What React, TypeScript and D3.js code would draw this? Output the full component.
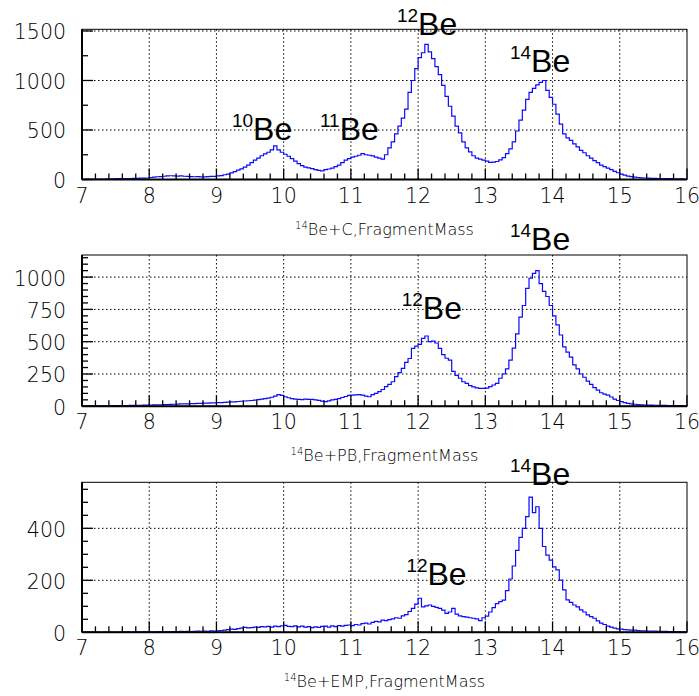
import * as d3 from "d3";
import React from "react";

// fragment mass histograms, bins of 0.05 from 7 to 16 (20 bins per unit)
const massMin = 7;
const massMax = 16;
const binWidth = 0.05;

const cCounts = [
  2, 3, 3, 4, 4, 5, 5, 6, 6, 7, 8, 8, 9, 10, 10, 11, 12, 13, 14, 15,
  20, 24, 28, 30, 33, 36, 38, 37, 35, 36, 33, 31, 30, 28, 30, 27, 26, 29, 31, 32,
  36, 40, 48, 55, 66, 80, 95, 108, 125, 145, 170, 195, 215, 240, 258, 275, 300, 340, 300, 275,
  255, 235, 210, 185, 160, 140, 125, 118, 110, 100, 92, 88, 100, 106, 115, 130, 145, 170, 195, 210,
  225, 235, 245, 262, 250, 245, 238, 225, 215, 205, 250, 320, 380, 460, 540, 620, 710, 880, 1000, 1120,
  1230, 1280, 1365, 1290, 1220, 1140, 1060, 950, 840, 740, 640, 540, 470, 380, 320, 280, 240, 215, 205, 195,
  185, 172, 175, 182, 198, 220, 262, 310, 380, 490, 600, 700, 810, 880, 920, 955, 980, 1000, 900, 830,
  760, 660, 560, 460, 420, 395, 360, 330, 295, 270, 240, 215, 190, 170, 145, 130, 115, 100, 82, 68,
  55, 45, 35, 30, 25, 20, 17, 15, 13, 12, 11, 10, 10, 9, 8, 8, 7, 6, 6, 5,
];

const pbCounts = [
  2, 2, 3, 3, 3, 4, 4, 4, 5, 5, 5, 6, 6, 6, 7, 7, 8, 8, 9, 9,
  10, 11, 12, 12, 13, 14, 15, 16, 17, 18, 18, 19, 20, 21, 22, 23, 24, 25, 26, 27,
  28, 29, 31, 32, 34, 35, 37, 39, 41, 43, 45, 48, 52, 56, 60, 64, 70, 78, 90, 84,
  74, 66, 60, 56, 54, 52, 55, 53, 54, 50, 46, 40, 36, 42, 50, 54, 60, 68, 76, 84,
  86, 88, 90, 86, 78, 74, 90, 100, 113, 130, 152, 170, 190, 230, 260, 294, 340, 370, 449, 465,
  480, 526, 544, 500, 505, 490, 449, 400, 372, 358, 270, 240, 217, 190, 178, 160, 150, 142, 139, 138,
  140, 152, 165, 178, 217, 250, 290, 358, 450, 560, 690, 780, 913, 991, 1029, 1050, 950, 890, 850, 780,
  700, 630, 552, 460, 420, 380, 320, 290, 250, 225, 195, 170, 145, 125, 105, 95, 87, 72, 56, 45,
  36, 28, 23, 19, 16, 13, 11, 10, 10, 9, 8, 8, 7, 7, 6, 6, 5, 5, 5, 4,
];

const empCounts = [
  0, 1, 0, 1, 1, 0, 1, 1, 1, 0, 1, 1, 1, 2, 1, 1, 2, 1, 2, 2,
  2, 1, 2, 3, 2, 3, 2, 3, 3, 4, 3, 4, 3, 4, 5, 4, 5, 4, 6, 5,
  6, 7, 8, 10, 12, 11, 14, 16, 19, 17, 18, 20, 19, 22, 21, 23, 20, 24, 22, 25,
  27, 23, 22, 25, 21, 24, 20, 22, 18, 21, 19, 23, 24, 20, 25, 22, 26, 24, 27, 28,
  26, 30, 28, 33, 35, 32, 38, 42, 40, 47, 45, 49, 52, 56, 54, 63, 68, 80, 92, 108,
  131, 98, 102, 105, 100, 96, 92, 85, 73, 78, 92, 70, 63, 60, 58, 56, 54, 52, 45, 56,
  62, 78, 95, 110, 118, 124, 160, 205, 255, 315, 365, 400, 445, 520, 460, 483, 400, 330, 297, 278,
  252, 240, 201, 163, 125, 115, 105, 98, 86, 78, 67, 60, 54, 44, 35, 30, 24, 20, 16, 13,
  12, 10, 9, 8, 8, 7, 6, 6, 5, 5, 5, 4, 4, 4, 3, 3, 3, 3, 2, 2,
];

const xTicks = [7, 8, 9, 10, 11, 12, 13, 14, 15, 16];

const cYTicks = [0, 500, 1000, 1500];
const pbYTicks = [0, 250, 500, 750, 1000];
const empYTicks = [0, 200, 400];

// labels: [mass number, x, y] in data units
const cLabels: [string, number, number][] = [
  ["10", 9.545, 399],
  ["11", 10.833, 399],
  ["12", 12.0, 1459],
  ["14", 13.68, 1086],
];
const pbLabels: [string, number, number][] = [
  ["12", 12.07, 673],
  ["14", 13.68, 1210],
];
const empLabels: [string, number, number][] = [
  ["12", 12.14, 182],
  ["14", 13.68, 567],
];

const W = 699;
const H = 696;
const left = 82;
const right = 687;
const tickFont = "'DejaVu Sans', sans-serif";

type PanelProps = {
  counts: number[];
  top: number;
  bottom: number;
  yMax: number;
  yTicks: number[];
  minorStep: number;
  target: string;
  labels: [string, number, number][];
};

function Panel({ counts, top, bottom, yMax, yTicks, minorStep, target, labels }: PanelProps) {
  const x = d3.scaleLinear().domain([massMin, massMax]).range([left, right]);
  const y = d3.scaleLinear().domain([0, yMax]).range([bottom, top]);

  const pts: [number, number][] = counts.map((c, i) => [massMin + i * binWidth, c]);
  pts.push([massMax, counts[counts.length - 1]]);
  const path = d3
    .line<[number, number]>()
    .x((d) => x(d[0]))
    .y((d) => y(d[1]))
    .curve(d3.curveStepAfter)(pts);

  const xMinor = d3.range(massMin, massMax + 0.001, 0.2);
  const yMinor = d3.range(0, yMax, minorStep);

  return (
    <g>
      {/* grid */}
      {xTicks.slice(1, -1).map((t) => (
        <line key={"gx" + t} x1={x(t)} x2={x(t)} y1={top} y2={bottom}
          stroke="#000" strokeWidth={1} strokeDasharray="1.5,2.5" />
      ))}
      {yTicks.slice(1).map((t) => (
        <line key={"gy" + t} x1={left} x2={right} y1={y(t)} y2={y(t)}
          stroke="#000" strokeWidth={1} strokeDasharray="1.5,2.5" />
      ))}

      <path d={path || ""} fill="none" stroke="#0a0aff" strokeWidth={1.2} />

      {/* frame */}
      <rect x={left} y={top} width={right - left} height={bottom - top}
        fill="none" stroke="#000" strokeWidth={1} />
      <line x1={left} x2={right} y1={bottom} y2={bottom} stroke="#000" strokeWidth={2} />
      <line x1={left} x2={left} y1={top} y2={bottom} stroke="#000" strokeWidth={2} />

      {/* ticks */}
      {xMinor.map((t, i) => (
        <line key={"tx" + i} x1={x(t)} x2={x(t)} y1={bottom}
          y2={bottom - (i % 5 === 0 ? 11 : 6)} stroke="#000" strokeWidth={1.3} />
      ))}
      {yMinor.map((t, i) => (
        <line key={"ty" + i} x1={left} x2={left + (yTicks.includes(t) ? 11 : 6)}
          y1={y(t)} y2={y(t)} stroke="#000" strokeWidth={1.3} />
      ))}

      {/* tick labels */}
      {xTicks.map((t) => (
        <text key={"lx" + t} x={x(t)} y={bottom + 23} textAnchor="middle"
          fontFamily={tickFont} fontWeight={200} fontSize={20.5} fill="#000">{t}</text>
      ))}
      {yTicks.map((t) => (
        <text key={"ly" + t} x={66} y={y(t) + 1.5} textAnchor="end" dominantBaseline="central"
          fontFamily={tickFont} fontWeight={200} fontSize={20.5} fill="#000">{t}</text>
      ))}

      {/* axis title */}
      <text x={(left + right) / 2} y={bottom + 55} textAnchor="middle"
        fontFamily={tickFont} fontWeight={200} fontSize={16} fill="#000">
        <tspan fontSize={10} dy={-6}>14</tspan>
        <tspan dy={6}>{"Be+" + target + ",FragmentMass"}</tspan>
      </text>

      {/* isotope labels */}
      {labels.map(([a, lx, ly]) => (
        <g key={"iso" + a}>
          <text x={x(lx)} y={y(ly) - 13} textAnchor="end"
            fontFamily="'Liberation Sans', Arial, sans-serif" fontSize={19} fill="#000">{a}</text>
          <text x={x(lx)} y={y(ly)}
            fontFamily="'Liberation Sans', Arial, sans-serif" fontSize={32} fill="#000">Be</text>
        </g>
      ))}
    </g>
  );
}

export default function App() {
  return (
    <svg width={W} height={H} style={{ position: "absolute", left: 0, top: 0, background: "#fff" }}>
      <Panel counts={cCounts} top={29.3} bottom={179.5} yMax={1517} yTicks={cYTicks}
        minorStep={250} target="C" labels={cLabels} />
      <Panel counts={pbCounts} top={255} bottom={406.3} yMax={1171} yTicks={pbYTicks}
        minorStep={50} target="PB" labels={pbLabels} />
      <Panel counts={empCounts} top={482.3} bottom={632.3} yMax={577} yTicks={empYTicks}
        minorStep={50} target="EMP" labels={empLabels} />
    </svg>
  );
}
